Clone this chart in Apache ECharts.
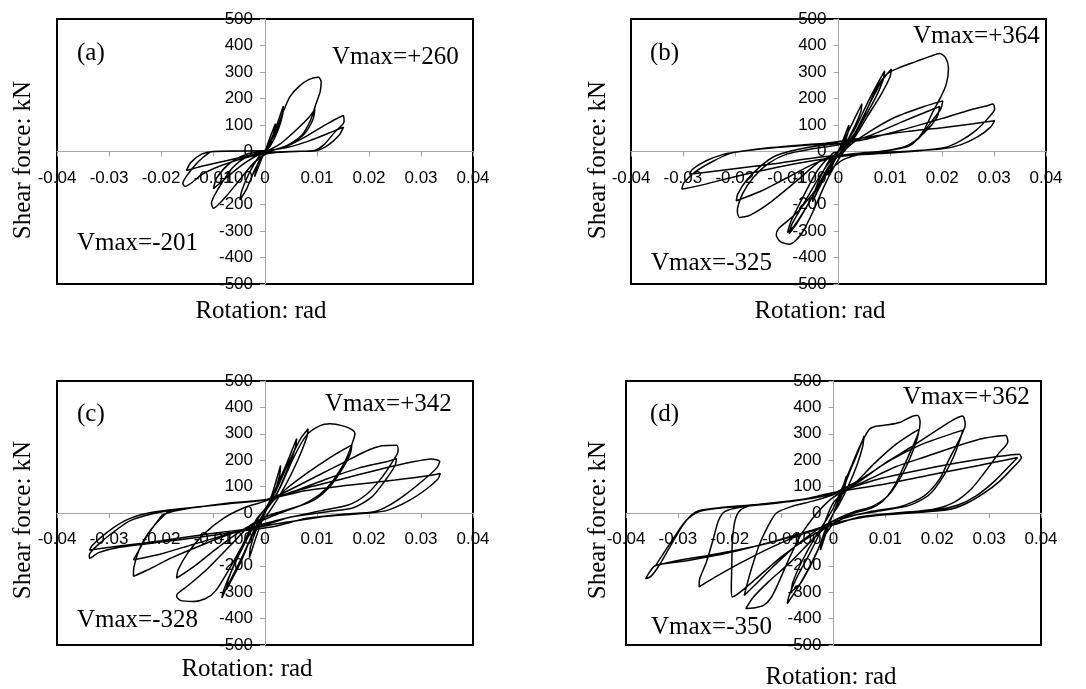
<!DOCTYPE html>
<html>
<head>
<meta charset="utf-8">
<title>Shear force vs rotation</title>
<script src="https://cdn.jsdelivr.net/npm/echarts@6/dist/echarts.min.js"></script>
<style>
  html, body { margin: 0; padding: 0; background: #fff; }
  #chart { width: 1086px; height: 689px; }
</style>
</head>
<body>
<div id="chart"></div>
<script>
// tick values
var xTicks = [-0.04, -0.03, -0.02, -0.01, 0, 0.01, 0.02, 0.03, 0.04];
var yTicks = [-500, -400, -300, -200, -100, 0, 100, 200, 300, 400, 500];

// panel texts
var panelTags = ["(a)", "(b)", "(c)", "(d)"];
var vmaxPos = ["Vmax=+260", "Vmax=+364", "Vmax=+342", "Vmax=+362"];
var vmaxNeg = ["Vmax=-201", "Vmax=-325", "Vmax=-328", "Vmax=-350"];

// hysteresis loops [rotation rad, shear kN]
var loopA = [
  [0,0],[0.001,55],[0.002,105],[0.0018,80],[0.001,30],[0,0],[-0.001,-45],[-0.002,-95],[-0.0017,-65],[-0.001,-30],[0,0],
  [0.0015,60],[0.0028,130],[0.0035,170],[0.0034,140],[0.0025,80],[0.001,20],[0,0],[-0.002,-70],[-0.0035,-140],[-0.0048,-182],[-0.0045,-150],[-0.003,-80],[-0.0012,-20],[0,5],
  [0.002,70],[0.0035,150],[0.0048,207],[0.0065,245],[0.0085,272],[0.0103,280],[0.0108,262],[0.0106,225],[0.0098,180],[0.0088,120],[0.007,60],[0.004,20],[0.001,0],[-0.002,-40],[-0.005,-110],[-0.0075,-170],[-0.0092,-205],[-0.0099,-214],[-0.0103,-195],[-0.0097,-165],[-0.0082,-115],[-0.0062,-60],[-0.0035,-20],[0,0],
  [0.003,30],[0.0062,85],[0.0085,130],[0.0096,160],[0.0092,120],[0.0075,65],[0.005,30],[0.002,8],[0,0],[-0.004,-45],[-0.0075,-100],[-0.0099,-140],[-0.0093,-100],[-0.0068,-45],[-0.0035,-10],[0,0],
  [0.004,18],[0.008,58],[0.012,105],[0.0151,136],[0.0152,112],[0.0135,75],[0.0113,25],[0.0095,4],[0.006,0],[0.002,-4],[-0.003,-20],[-0.008,-50],[-0.012,-85],[-0.0154,-132],[-0.0158,-120],[-0.0148,-85],[-0.0128,-38],[-0.0108,-5],[-0.010,0],[-0.005,2],[0,4],
  [0.004,14],[0.0085,40],[0.013,75],[0.0151,92],[0.0142,60],[0.012,22],[0.0098,3],[0.005,0],[0,-4],[-0.006,-28],[-0.012,-55],[-0.0151,-72],[-0.0143,-42],[-0.0122,-10],[-0.010,0],[-0.004,2],[0,2]
];

var loopB = [
  [0,0],[0.001,50],[0.002,100],[0.0018,70],[0.001,25],[0,0],[-0.001,-45],[-0.002,-90],[-0.0018,-60],[-0.001,-25],[0,0],
  [0.002,80],[0.0035,140],[0.0045,180],[0.0043,150],[0.003,90],[0.0012,25],[0,5],[-0.002,-70],[-0.0038,-140],[-0.005,-190],[-0.0046,-150],[-0.0032,-85],[-0.0015,-25],[0,0],
  [0.003,80],[0.0055,180],[0.0075,255],[0.0089,304],[0.0086,270],[0.0072,205],[0.0048,120],[0.0025,45],[0.0005,0],[-0.002,-70],[-0.005,-170],[-0.008,-270],[-0.0095,-310],[-0.009,-275],[-0.0065,-190],[-0.0035,-90],[-0.001,-20],[0,0],
  [0.003,65],[0.006,180],[0.0085,270],[0.0102,311],[0.0099,280],[0.0082,215],[0.0055,130],[0.003,50],[0.001,5],[-0.002,-60],[-0.005,-170],[-0.0085,-280],[-0.0098,-305],[-0.0092,-265],[-0.0068,-170],[-0.004,-70],[-0.001,-5],[0,0],
  [0.003,60],[0.0055,160],[0.0075,245],[0.0095,295],[0.0118,317],[0.015,340],[0.0178,360],[0.0195,370],[0.0206,355],[0.0212,315],[0.0208,255],[0.0197,205],[0.0182,150],[0.0163,75],[0.0138,22],[0.01,5],[0.005,-8],[0.001,-30],[-0.002,-80],[-0.005,-160],[-0.0085,-240],[-0.0115,-290],[-0.012,-315],[-0.0112,-340],[-0.0095,-350],[-0.0082,-335],[-0.0068,-300],[-0.005,-230],[-0.0025,-120],[0,-30],[0.002,20],
  [0.006,75],[0.011,130],[0.0165,170],[0.0201,191],[0.0197,160],[0.0178,110],[0.0155,50],[0.0125,15],[0.008,0],[0.003,-8],[-0.003,-30],[-0.008,-110],[-0.013,-190],[-0.017,-240],[-0.0191,-249],[-0.0195,-225],[-0.0185,-160],[-0.0165,-100],[-0.0135,-45],[-0.01,-10],[-0.005,10],[0,25],
  [0.006,60],[0.012,110],[0.017,150],[0.0195,170],[0.019,130],[0.0165,70],[0.013,20],[0.008,0],[0.002,-10],[-0.004,-40],[-0.01,-100],[-0.015,-150],[-0.0197,-186],[-0.0194,-160],[-0.0178,-110],[-0.015,-55],[-0.012,-15],[-0.006,15],[0,30],
  [0.005,45],[0.012,80],[0.02,125],[0.025,155],[0.0285,172],[0.0298,179],[0.0301,160],[0.0288,125],[0.0265,80],[0.0235,40],[0.0205,15],[0.015,2],[0.008,-8],[0.002,-15],[-0.005,-35],[-0.012,-60],[-0.02,-95],[-0.026,-125],[-0.0295,-140],[-0.0302,-142],[-0.0298,-118],[-0.0275,-75],[-0.024,-35],[-0.021,-8],[-0.019,0],[-0.013,15],[-0.007,25],[-0.003,30],[0,38],
  [0.006,55],[0.013,75],[0.02,90],[0.026,105],[0.0301,116],[0.0293,92],[0.0268,55],[0.0235,25],[0.02,10],[0.012,0],[0.005,-8],[-0.003,-20],[-0.012,-45],[-0.022,-70],[-0.0287,-86],[-0.0282,-68],[-0.0255,-35],[-0.022,-10],[-0.019,0],[-0.012,15],[-0.005,25],[0,32]
];

var loopC = [
  [0,0],[0.0015,80],[0.003,180],[0.0028,140],[0.0015,60],[0,0],[-0.0015,-80],[-0.003,-170],[-0.0028,-130],[-0.0015,-55],[0,0],
  [0.002,90],[0.004,180],[0.0061,282],[0.0058,245],[0.0042,160],[0.002,60],[0,5],[-0.002,-60],[-0.0045,-180],[-0.0074,-290],[-0.0071,-255],[-0.0052,-160],[-0.0025,-50],[0,15],
  [0.002,80],[0.0045,190],[0.0068,280],[0.0083,319],[0.008,285],[0.0063,200],[0.0038,100],[0.001,10],[-0.002,-70],[-0.005,-190],[-0.0073,-280],[-0.0083,-322],[-0.0079,-290],[-0.006,-200],[-0.0035,-100],[-0.001,-10],[0.001,35],
  [0.003,100],[0.0055,210],[0.008,295],[0.0105,330],[0.0125,338],[0.015,330],[0.0168,315],[0.0173,301],[0.0168,265],[0.0155,200],[0.013,120],[0.0105,70],[0.007,30],[0.003,5],[0,-15],[-0.003,-50],[-0.007,-130],[-0.011,-210],[-0.0145,-270],[-0.0168,-305],[-0.017,-316],[-0.0162,-332],[-0.0138,-335],[-0.0115,-325],[-0.0095,-295],[-0.0068,-210],[-0.004,-110],[-0.0015,-20],[0.001,35],
  [0.004,90],[0.008,150],[0.0125,210],[0.0155,245],[0.0167,257],[0.0164,225],[0.0148,165],[0.0125,100],[0.0095,50],[0.005,15],[0.001,-15],[-0.004,-60],[-0.009,-130],[-0.0135,-200],[-0.017,-247],[-0.0167,-215],[-0.0148,-150],[-0.0118,-80],[-0.008,-20],[-0.004,20],[0,45],
  [0.005,90],[0.01,140],[0.015,190],[0.0195,235],[0.0225,255],[0.0253,257],[0.0256,235],[0.0247,200],[0.0225,135],[0.0195,70],[0.016,30],[0.011,10],[0.005,-15],[0,-40],[-0.006,-75],[-0.012,-120],[-0.018,-170],[-0.0225,-215],[-0.0253,-240],[-0.0252,-205],[-0.024,-130],[-0.0222,-70],[-0.02,-20],[-0.0185,5],[-0.012,25],[-0.006,40],[0,50],
  [0.006,85],[0.012,130],[0.018,170],[0.0235,195],[0.0253,206],[0.025,180],[0.023,120],[0.0205,60],[0.017,20],[0.012,5],[0.005,-15],[0,-45],[-0.007,-80],[-0.014,-120],[-0.02,-155],[-0.0253,-177],[-0.0245,-150],[-0.0228,-90],[-0.021,-40],[-0.0195,-5],[-0.014,20],[-0.007,35],[0,50],
  [0.008,95],[0.015,130],[0.022,165],[0.028,192],[0.032,205],[0.0336,195],[0.033,170],[0.0305,125],[0.027,70],[0.0235,25],[0.021,5],[0.015,-5],[0.008,-20],[0.002,-50],[-0.005,-70],[-0.012,-90],[-0.02,-110],[-0.028,-130],[-0.032,-150],[-0.0337,-171],[-0.0338,-160],[-0.0318,-115],[-0.029,-70],[-0.026,-30],[-0.022,-5],[-0.018,10],[-0.012,25],[-0.006,38],[0,50],
  [0.008,85],[0.016,105],[0.025,125],[0.031,140],[0.0337,150],[0.0333,130],[0.031,90],[0.0275,45],[0.0235,10],[0.02,0],[0.012,-12],[0.004,-35],[-0.004,-62],[-0.012,-82],[-0.02,-105],[-0.028,-125],[-0.0337,-140],[-0.0332,-122],[-0.0305,-75],[-0.027,-30],[-0.0235,-5],[-0.02,8],[-0.012,25],[-0.005,40],[0,50]
];

var loopD = [
  [0,0],[0.001,50],[0.002,110],[0.0025,140],[0.0022,100],[0.001,40],[0,0],[-0.001,-50],[-0.002,-110],[-0.0025,-140],[-0.0022,-100],[-0.001,-40],[0,0],
  [0.0015,70],[0.003,150],[0.0045,220],[0.0059,292],[0.0056,250],[0.0045,180],[0.0028,100],[0.001,30],[0,0],[-0.0015,-60],[-0.003,-140],[-0.005,-220],[-0.0065,-270],[-0.0082,-299],[-0.0078,-260],[-0.006,-180],[-0.0035,-90],[-0.0012,-20],[0,20],
  [0.002,110],[0.0035,180],[0.005,250],[0.0069,317],[0.008,328],[0.0105,334],[0.013,345],[0.0146,361],[0.0162,370],[0.0167,345],[0.0163,300],[0.015,240],[0.0133,166],[0.0114,91],[0.0095,45],[0.0072,18],[0.004,0],[0.001,-20],[-0.0015,-80],[-0.004,-180],[-0.0065,-270],[-0.0089,-343],[-0.0086,-315],[-0.0072,-250],[-0.0045,-150],[-0.002,-50],[0,40],
  [0.004,110],[0.008,190],[0.012,260],[0.015,300],[0.0165,317],[0.0161,280],[0.0148,210],[0.0128,130],[0.0105,65],[0.0075,25],[0.004,5],[0,-30],[-0.004,-100],[-0.0085,-190],[-0.0125,-260],[-0.0155,-320],[-0.0169,-362],[-0.0155,-360],[-0.0135,-350],[-0.012,-320],[-0.0105,-260],[-0.0085,-170],[-0.0065,-90],[-0.004,-20],[-0.002,25],[0,60],
  [0.005,120],[0.01,190],[0.015,250],[0.02,315],[0.023,352],[0.0249,367],[0.0254,335],[0.0243,280],[0.0222,200],[0.0205,130],[0.0175,65],[0.013,25],[0.007,5],[0.002,-20],[0,-40],[-0.005,-95],[-0.01,-165],[-0.015,-250],[-0.018,-300],[-0.0195,-318],[-0.0197,-285],[-0.0196,-200],[-0.0195,-110],[-0.019,-30],[-0.018,10],[-0.016,28],[-0.012,38],[-0.006,50],[0,75],
  [0.005,125],[0.011,200],[0.017,260],[0.022,295],[0.0249,314],[0.0245,285],[0.0232,215],[0.0212,140],[0.0185,70],[0.0145,28],[0.008,5],[0.002,-15],[-0.002,-50],[-0.007,-120],[-0.012,-210],[-0.015,-270],[-0.0172,-312],[-0.0168,-280],[-0.0158,-210],[-0.0143,-120],[-0.0125,-45],[-0.011,0],[-0.008,25],[-0.004,45],[0,70],
  [0.006,120],[0.012,175],[0.018,215],[0.024,255],[0.029,283],[0.0332,294],[0.0336,270],[0.0318,225],[0.0292,155],[0.0265,90],[0.0232,40],[0.0195,15],[0.013,0],[0.006,-15],[0,-40],[-0.006,-80],[-0.012,-130],[-0.018,-190],[-0.023,-245],[-0.0259,-280],[-0.0258,-250],[-0.0245,-186],[-0.0232,-100],[-0.0222,-30],[-0.021,5],[-0.018,22],[-0.012,35],[-0.006,50],[0,75],
  [0.008,125],[0.016,160],[0.024,190],[0.031,212],[0.0358,223],[0.0362,210],[0.0345,170],[0.032,120],[0.029,75],[0.0255,35],[0.022,12],[0.016,2],[0.008,-10],[0.002,-30],[-0.005,-70],[-0.012,-110],[-0.02,-150],[-0.028,-180],[-0.0343,-199],[-0.0355,-225],[-0.0362,-249],[-0.0352,-240],[-0.0335,-195],[-0.031,-110],[-0.029,-45],[-0.0275,-10],[-0.026,9],[-0.022,20],[-0.016,30],[-0.011,40],[-0.005,55],[0,78],
  [0.01,110],[0.02,150],[0.028,180],[0.033,200],[0.0355,210],[0.034,180],[0.031,120],[0.0275,65],[0.024,30],[0.02,12],[0.012,0],[0.005,-15],[0,-45],[-0.008,-90],[-0.016,-130],[-0.024,-160],[-0.03,-180],[-0.0343,-199],[-0.0335,-175],[-0.031,-100],[-0.0285,-30],[-0.026,5],[-0.02,22],[-0.012,35],[0,70]
];

var loops = [loopA, loopB, loopC, loopD];

// layout of the four boxes (pixels)
var boxes = [
  { left: 57,  top: 19,  width: 416, height: 265 },
  { left: 631, top: 19,  width: 415, height: 265 },
  { left: 57,  top: 381, width: 416, height: 264 },
  { left: 626, top: 381, width: 415, height: 264 }
];
var yTitlePos = [[23, 160], [598, 160], [23, 520], [598, 520]];
var xTitlePos = [[261, 311], [820, 311], [247, 669], [831, 677]];
var tagPos = [[77, 53], [650, 53], [77, 414], [650, 414]];
var posPos = [[332, 57], [913, 36], [325, 404], [903, 397]];
var negPos = [[77, 243], [651, 263], [77, 620], [651, 627]];

var serif = '"Liberation Serif", "Times New Roman", serif';
var sans = '"Liberation Sans", Arial, sans-serif';
var axisGrey = '#a6a6a6';

var grids = [], xAxes = [], yAxes = [], series = [], graphics = [];

function addText(txt, x, y, align, rot){
	graphics.push({
		type: 'text',
		x: x, y: y,
		rotation: rot || 0,
		z: 100,
		style: {
			text: txt,
			font: '25px ' + serif,
			fill: '#000',
			align: align,
			verticalAlign: 'middle'
		}
	});
}

for (var i = 0; i < 4; i++) {
	var b = boxes[i];
	grids.push({
		left: b.left, top: b.top,
		width: b.width, height: b.height,
		show: true, borderColor: '#000', borderWidth: 2,
		backgroundColor: 'transparent',
		containLabel: false
	});
	// axes cross at the origin (middle of the box), moved there by offset
	xAxes.push({
		gridIndex: i, type: 'value', position: 'bottom',
		offset: -b.height / 2,
		min: xTicks[0], max: xTicks[xTicks.length - 1], interval: 0.01,
		axisLine: { onZero: false, lineStyle: { color: axisGrey, width: 1 } },
		axisTick: { show: true, length: 5, inside: false, lineStyle: { color: axisGrey } },
		axisLabel: { color: '#000', fontSize: 17, fontFamily: sans, margin: 18,
			formatter: function(v){ return String(+v.toFixed(2)); } },
		splitLine: { show: false }
	});
	yAxes.push({
		gridIndex: i, type: 'value', position: 'left',
		offset: -b.width / 2,
		min: yTicks[0], max: yTicks[yTicks.length - 1], interval: 100,
		axisLine: { onZero: false, lineStyle: { color: axisGrey, width: 1 } },
		axisTick: { show: true, length: 5, lineStyle: { color: axisGrey } },
		axisLabel: { color: '#000', fontSize: 17, fontFamily: sans, margin: 12 },
		splitLine: { show: false }
	});
	series.push({
		type: 'line',
		xAxisIndex: i, yAxisIndex: i,
		data: loops[i],
		showSymbol: false,
		smooth: 0.25,
		animation: false,
		lineStyle: { color: '#000', width: 1.5 },
		z: 3
	});
	addText('Shear force: kN', yTitlePos[i][0], yTitlePos[i][1], 'center', Math.PI / 2);
	addText('Rotation: rad', xTitlePos[i][0], xTitlePos[i][1], 'center');
	addText(panelTags[i], tagPos[i][0], tagPos[i][1], 'left');
	addText(vmaxPos[i], posPos[i][0], posPos[i][1], 'left');
	addText(vmaxNeg[i], negPos[i][0], negPos[i][1], 'left');
}

var myChart = echarts.init(document.getElementById('chart'), null, { renderer: 'canvas' });
myChart.setOption({
	backgroundColor: '#fff',
	animation: false,
	grid: grids,
	xAxis: xAxes,
	yAxis: yAxes,
	series: series,
	graphic: graphics
});
</script>
</body>
</html>
